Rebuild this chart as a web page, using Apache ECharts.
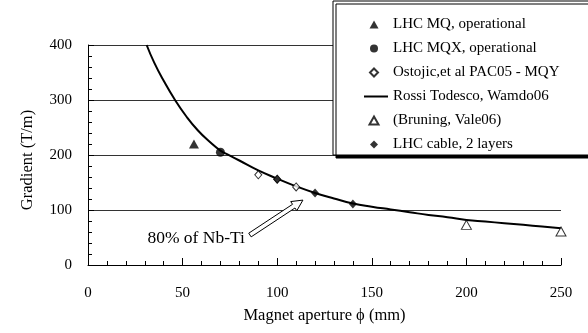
<!DOCTYPE html>
<html>
<head>
<meta charset="utf-8">
<script src="https://cdn.jsdelivr.net/npm/echarts@6/dist/echarts.min.js"></script>
<style>
  html, body { margin: 0; padding: 0; background: #fff; }
  #chart { width: 588px; height: 333px; }
</style>
</head>
<body>
<div id="chart"></div>
<script>
// Quadrupole gradient versus magnet aperture (Nb-Ti)
const seriesNames = [
  'LHC MQ, operational',
  'LHC MQX, operational',
  'Ostojic,et al PAC05 - MQY',
  'Rossi Todesco, Wamdo06',
  '(Bruning, Vale06)',
  'LHC cable, 2 layers'
];

// [aperture mm, gradient T/m]
const lhcMQ = [[56, 220]];
const lhcMQX = [[70, 205]];
const ostojicMQY = [[90, 164], [100, 156], [110, 142]];
const bruning = [[200, 73], [250, 61]];
const lhcCable = [[100, 156], [120, 131], [140, 111]];

// Rossi-Todesco scaling curve
const rossiAperture = [31, 35, 40, 46, 52, 58, 64, 70, 75, 80, 90, 100, 110, 120, 130, 140, 150, 160, 170, 180, 190, 200, 210, 220, 230, 240, 250];
const rossiGradient = [400, 368, 335, 300, 270, 245, 225, 208, 199, 190, 172, 157, 143, 131, 121, 112, 106, 101, 96, 91, 87, 82, 79, 76, 73, 70, 67];

const xTicks = [0, 50, 100, 150, 200, 250];
const yTicks = [0, 100, 200, 300, 400];

const annotationText = '80% of Nb-Ti';
const arrowTail = [85.6, 54.5];
const arrowTip = [113.6, 118];

const FONT = 'Liberation Serif, Times New Roman, serif';

// legend icons, each laid out in a 24x10 box
const ICON = {
  triUp: 'path://M0,0M24,10M5.5,9L10,1L14.5,9Z',
  dot: 'path://M0,0M24,10M6,5A4,4 0 1 1 14,5A4,4 0 1 1 6,5Z',
  diamond: 'path://M0,0M24,10M10,1L14,5L10,9L6,5Z',
  bar: 'path://M0,0M24,10M0,4L24,4L24,6L0,6Z'
};

const chart = echarts.init(document.getElementById('chart'), null, { renderer: 'canvas' });

const filled = { color: '#000', borderWidth: 0 };
const hollow = { color: '#fff', borderColor: '#000', borderWidth: 1 };

const option = {
  animation: false,
  backgroundColor: '#fff',
  grid: { left: 88, right: 27, top: 45, bottom: 68 },
  xAxis: {
    type: 'value',
    min: xTicks[0],
    max: xTicks[xTicks.length - 1],
    interval: xTicks[1] - xTicks[0],
    name: 'Magnet aperture \u03D5 (mm)',
    nameLocation: 'middle',
    nameGap: 42,
    nameTextStyle: { fontFamily: FONT, fontSize: 16.5, color: '#000' },
    axisLine: { lineStyle: { color: '#000', width: 1 } },
    axisTick: { inside: true, length: 7, lineStyle: { color: '#000' } },
    minorTick: { show: true, splitNumber: 5, length: 4, lineStyle: { color: '#000' } },
    axisLabel: { fontFamily: FONT, fontSize: 15, color: '#000', margin: 21 },
    splitLine: { show: false }
  },
  yAxis: {
    type: 'value',
    min: yTicks[0],
    max: yTicks[yTicks.length - 1],
    interval: yTicks[1] - yTicks[0],
    name: 'Gradient (T/m)',
    nameLocation: 'middle',
    nameGap: 52,
    nameTextStyle: { fontFamily: FONT, fontSize: 16.5, color: '#000', padding: [0, 10, 0, 0] },
    axisLine: { show: true, lineStyle: { color: '#000', width: 1 } },
    axisTick: { inside: true, length: 6, lineStyle: { color: '#000' } },
    minorTick: { show: true, splitNumber: 5, length: 4, lineStyle: { color: '#000' } },
    axisLabel: { fontFamily: FONT, fontSize: 15, color: '#000', margin: 16 },
    splitLine: { show: true, lineStyle: { color: '#333', width: 1 } }
  },
  legend: {
    orient: 'vertical',
    left: 333,
    top: 1,
    padding: [16, 60, 3, 30],
    itemWidth: 24,
    itemHeight: 10,
    itemGap: 9,
    backgroundColor: '#fff',
    borderColor: '#000',
    borderWidth: 1,
    shadowColor: '#000',
    shadowBlur: 0,
    shadowOffsetX: 3,
    shadowOffsetY: 3,
    textStyle: { fontFamily: FONT, fontSize: 15, color: '#000' },
    data: [
      { name: seriesNames[0], icon: ICON.triUp },
      { name: seriesNames[1], icon: ICON.dot },
      { name: seriesNames[2], icon: ICON.diamond },
      { name: seriesNames[3], icon: ICON.bar },
      { name: seriesNames[4], icon: ICON.triUp },
      { name: seriesNames[5], icon: ICON.diamond }
    ]
  },
  series: [
    {
      name: seriesNames[3],
      type: 'line',
      data: rossiAperture.map((a, i) => [a, rossiGradient[i]]),
      smooth: true,
      symbol: 'none',
      clip: true,
      lineStyle: { color: '#000', width: 2 },
      itemStyle: { color: '#000' },
      z: 2
    },
    {
      name: seriesNames[0], type: 'scatter', data: lhcMQ,
      symbol: 'triangle', symbolSize: [10, 9], itemStyle: filled, z: 3
    },
    {
      name: seriesNames[1], type: 'scatter', data: lhcMQX,
      symbol: 'circle', symbolSize: 9, itemStyle: filled, z: 3
    },
    {
      name: seriesNames[2], type: 'scatter', data: ostojicMQY,
      symbol: 'diamond', symbolSize: [7, 8], itemStyle: hollow, z: 3
    },
    {
      name: seriesNames[4], type: 'scatter', data: bruning,
      symbol: 'triangle', symbolSize: [10, 9], itemStyle: hollow, z: 3
    },
    {
      name: seriesNames[5], type: 'scatter', data: lhcCable,
      symbol: 'diamond', symbolSize: [8, 9], itemStyle: filled, z: 3
    }
  ]
};

chart.setOption(option);

// hollow arrow with its label, anchored in data coordinates
function drawAnnotation() {
  const tail = chart.convertToPixel({ gridIndex: 0 }, arrowTail);
  const tip = chart.convertToPixel({ gridIndex: 0 }, arrowTip);
  const dx = tip[0] - tail[0], dy = tip[1] - tail[1];
  const len = Math.sqrt(dx * dx + dy * dy);
  const ux = dx / len, uy = dy / len;
  const nx = -uy, ny = ux;
  const shaft = 2.2, head = 5.5, headLen = 11;
  const neck = [tip[0] - ux * headLen, tip[1] - uy * headLen];
  const pts = [
    [tail[0] + nx * shaft, tail[1] + ny * shaft],
    [neck[0] + nx * shaft, neck[1] + ny * shaft],
    [neck[0] + nx * head, neck[1] + ny * head],
    tip,
    [neck[0] - nx * head, neck[1] - ny * head],
    [neck[0] - nx * shaft, neck[1] - ny * shaft],
    [tail[0] - nx * shaft, tail[1] - ny * shaft]
  ];
  chart.setOption({
    graphic: [
      {
        type: 'polygon',
        shape: { points: pts },
        style: { fill: '#fff', stroke: '#000', lineWidth: 1 },
        z: 5
      },
      {
        type: 'text',
        x: tail[0] - 5,
        y: tail[1] + 3,
        style: {
          text: annotationText,
          font: '17.5px ' + FONT,
          fill: '#000',
          textAlign: 'right',
          textVerticalAlign: 'middle'
        },
        z: 5
      }
    ]
  });
}
drawAnnotation();
</script>
</body>
</html>
